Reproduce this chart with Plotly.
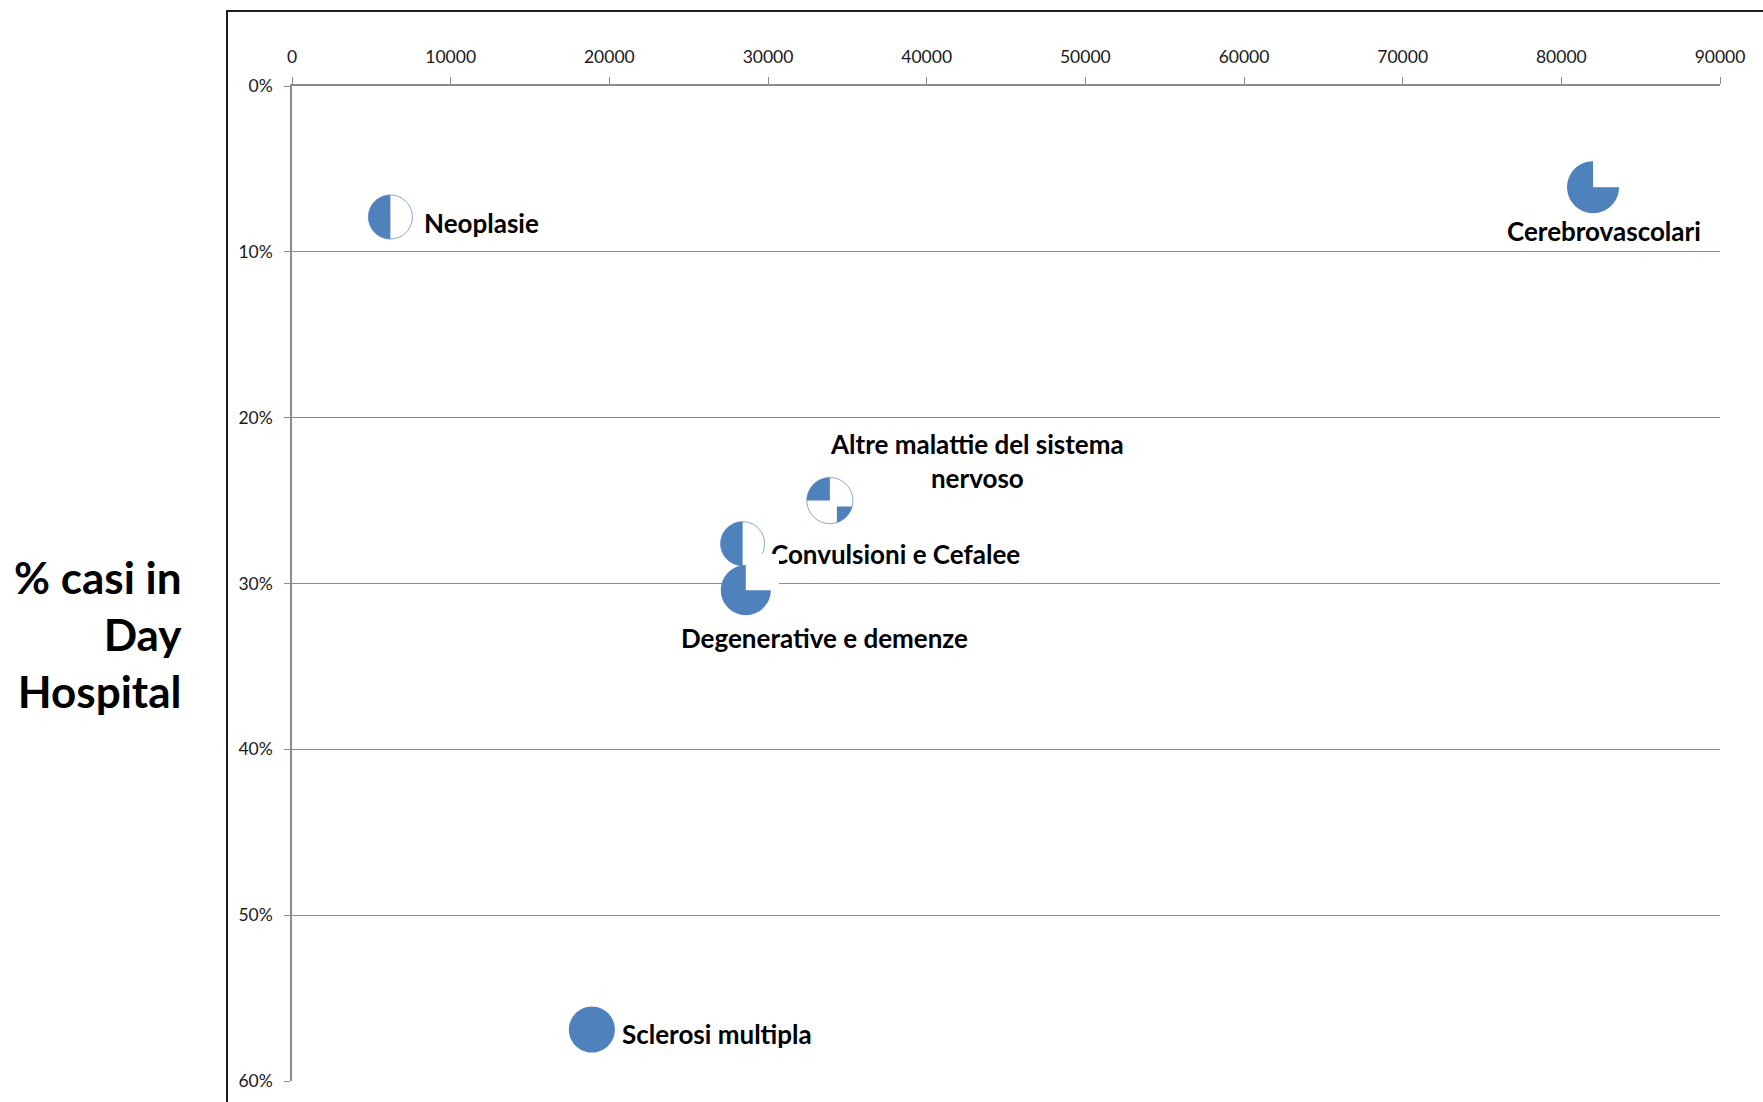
import math
import plotly.graph_objects as go

# --- data -------------------------------------------------------------
categories = [
    "Neoplasie",
    "Cerebrovascolari",
    "Altre malattie del sistema nervoso",
    "Convulsioni e Cefalee",
    "Degenerative e demenze",
    "Sclerosi multipla",
]
n_cases = [6200, 82000, 33900, 28400, 28600, 18900]
share_day_hospital = [0.079, 0.061, 0.250, 0.276, 0.304, 0.569]
ball_fill = [0.50, 0.75, 0.25, 0.50, 0.75, 1.00]

x_ticks = list(range(0, 90001, 10000))
y_ticks = [0.0, 0.1, 0.2, 0.3, 0.4, 0.5, 0.6]

# --- styling ----------------------------------------------------------
W, H = 1763, 1102
ML, MR, MT, MB = 292, 43, 86, 21
PW, PH = W - ML - MR, H - MT - MB

BLUE = "#4F81BD"
AXIS = "#8C8C8C"
FONT = "Lato"

glyph_radius = {
    "Neoplasie": 22, "Cerebrovascolari": 26,
    "Altre malattie del sistema nervoso": 23, "Convulsioni e Cefalee": 22,
    "Degenerative e demenze": 25, "Sclerosi multipla": 23,
}
# label placement: (text, xshift, yshift, xanchor)
label_place = {
    "Neoplasie": ("Neoplasie", 32, -6, "left"),
    "Cerebrovascolari": ("Cerebrovascolari", 11, -44, "center"),
    "Altre malattie del sistema nervoso": ("Altre malattie del sistema<br>nervoso", 147, 40, "center"),
    "Convulsioni e Cefalee": ("Convulsioni e Cefalee", 26, -10, "left"),
    "Degenerative e demenze": ("Degenerative e demenze", 79, -48, "center"),
    "Sclerosi multipla": ("Sclerosi multipla", 28, -4, "left"),
}


def px_x(v):
    return (v - ML) / PW


def px_y(v):
    return 1 - (v - MT) / PH


def wedge_path(frac, r):
    """Pie wedge starting at 12 o'clock, running counter-clockwise (pixel units, y up)."""
    n = max(3, int(96 * frac))
    pts = []
    for i in range(n + 1):
        a = math.radians(90 + 360 * frac * i / n)
        pts.append((r * math.cos(a), r * math.sin(a)))
    if frac >= 1:
        d = "M %.2f,%.2f " % pts[0] + " ".join("L %.2f,%.2f" % p for p in pts[1:]) + " Z"
    else:
        d = "M 0,0 " + " ".join("L %.2f,%.2f" % p for p in pts) + " Z"
    return d


def arc_piece_path(dx, dy, r):
    """Fragment of the disc lying right of dx and below -dy."""
    a0 = math.atan2(-math.sqrt(r * r - dx * dx), dx)
    a1 = math.atan2(-dy, math.sqrt(r * r - dy * dy))
    pts = [(dx, -dy)]
    n = 24
    for i in range(n + 1):
        a = a0 + (a1 - a0) * i / n
        pts.append((r * math.cos(a), r * math.sin(a)))
    return "M %.2f,%.2f " % pts[0] + " ".join("L %.2f,%.2f" % p for p in pts[1:]) + " Z"


fig = go.Figure()
fig.add_trace(go.Scatter(
    x=n_cases, y=share_day_hospital, mode="markers",
    marker=dict(size=40, color="rgba(0,0,0,0)"),
    text=categories, hoverinfo="text", showlegend=False,
))

shapes = []
# outer frame of the chart area
shapes.append(dict(type="line", xref="paper", yref="paper",
                   x0=px_x(227), x1=px_x(227), y0=px_y(H + 20), y1=px_y(11),
                   line=dict(color="#1E1E1E", width=2)))
shapes.append(dict(type="line", xref="paper", yref="paper",
                   x0=px_x(226), x1=px_x(W + 20), y0=px_y(11), y1=px_y(11),
                   line=dict(color="#1E1E1E", width=2)))

for name, xv, yv, f in zip(categories, n_cases, share_day_hospital, ball_fill):
    r = glyph_radius[name]
    base = dict(type="path", xref="x", yref="y", xsizemode="pixel", ysizemode="pixel",
                xanchor=xv, yanchor=yv, layer="above")
    if f <= 0.5:
        shapes.append(dict(base, path=wedge_path(1.0, r), fillcolor="white",
                           line=dict(color="#7FA3D1", width=1)))
    shapes.append(dict(base, path=wedge_path(f, r), fillcolor=BLUE, line=dict(width=0)))
    if f == 0.25:
        shapes.append(dict(base, path=arc_piece_path(7, 6, r), fillcolor=BLUE, line=dict(width=0)))

annotations = []
for name, xv, yv in zip(categories, n_cases, share_day_hospital):
    txt, xs, ys, xa = label_place[name]
    annotations.append(dict(
        x=xv, y=yv, xref="x", yref="y", text=txt, showarrow=False,
        xanchor=xa, yanchor="middle", xshift=xs, yshift=ys, align="center",
        font=dict(family=FONT, size=26, color="black", weight="bold"),
    ))

# the empty quarter of the "Degenerative" ball is opaque white
i_deg = categories.index("Degenerative e demenze")
annotations.append(dict(
    x=n_cases[i_deg], y=share_day_hospital[i_deg], xref="x", yref="y",
    text=" ", showarrow=False, xanchor="left", yanchor="bottom",
    width=33, height=36, bgcolor="white", borderpad=0, borderwidth=0,
    font=dict(size=2),
))

annotations.append(dict(
    xref="paper", yref="paper", x=px_x(184), y=px_y(634),
    xanchor="right", yanchor="middle", align="right", showarrow=False,
    text="% casi in<br>Day<br>Hospital",
    font=dict(family=FONT, size=44, color="black", weight="bold"),
))

fig.update_layout(
    width=W, height=H,
    margin=dict(l=ML, r=MR, t=MT, b=MB, pad=0),
    paper_bgcolor="white", plot_bgcolor="white",
    shapes=shapes, annotations=annotations,
    font=dict(family=FONT, color="#1A1A1A"),
    xaxis=dict(
        range=[0, 90000], side="top", tickvals=x_ticks,
        ticktext=[str(v) for v in x_ticks],
        showgrid=False, zeroline=False, showline=True,
        linecolor=AXIS, linewidth=1.5,
        ticks="outside", ticklen=7, tickwidth=1.3, tickcolor=AXIS,
        tickfont=dict(family=FONT, size=17.5, color="#1A1A1A"),
        ticklabelstandoff=7,
    ),
    yaxis=dict(
        range=[0.6, 0], tickvals=y_ticks, tickformat=".0%",
        showgrid=True, gridcolor=AXIS, gridwidth=1.3,
        zeroline=False, showline=True, linecolor=AXIS, linewidth=1.5,
        ticks="outside", ticklen=6, tickwidth=1.3, tickcolor=AXIS,
        tickfont=dict(family=FONT, size=17.5, color="#1A1A1A"),
        ticklabelstandoff=8,
    ),
)

fig.write_html("out.html")
